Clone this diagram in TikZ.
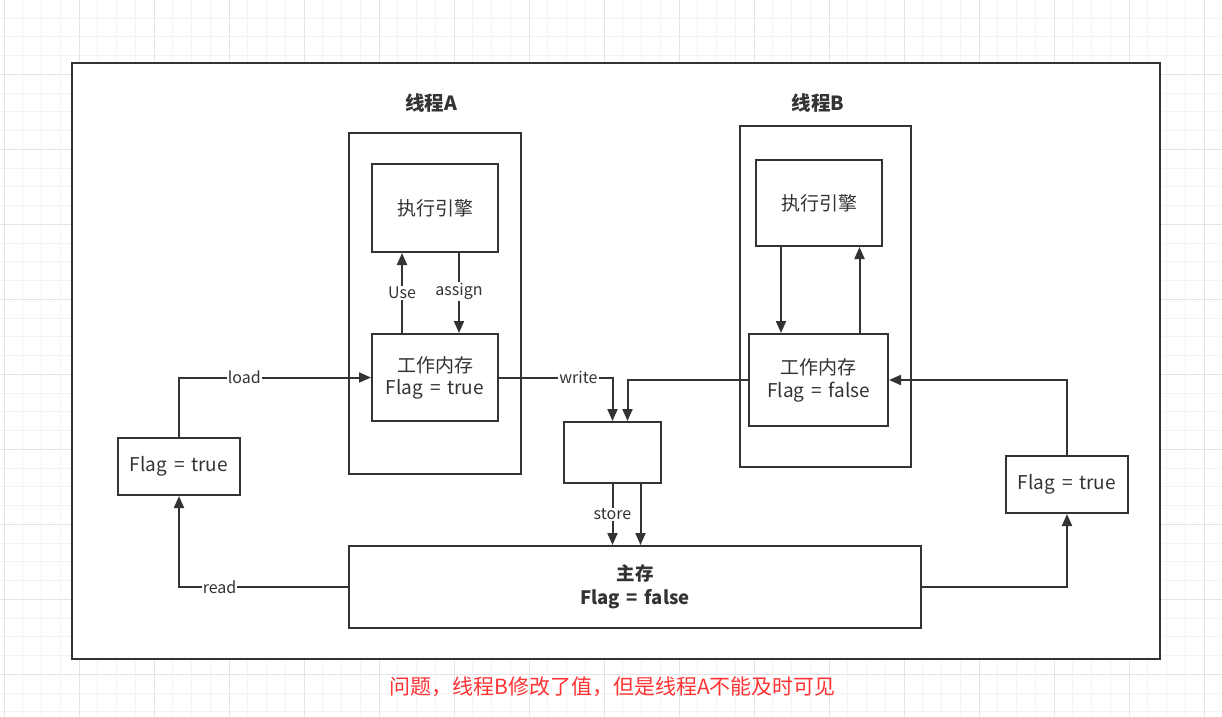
\documentclass[tikz,border=0pt]{standalone}
\usepackage{fontspec}
\setmainfont[WordSpace=1.6]{Noto Sans CJK SC}
\usepackage{xcolor}
\usepackage{tikz}
\usetikzlibrary{arrows.meta,positioning,calc}
\definecolor{inkgray}{RGB}{51,51,51}
\definecolor{gridminor}{RGB}{243,243,243}
\definecolor{gridmajor}{RGB}{228,228,228}
\definecolor{warnred}{RGB}{255,51,51}
\tikzset{
  box/.style={rectangle, draw=inkgray, line width=2pt, fill=white, text=inkgray, inner sep=0pt, align=center, font=\fontsize{19}{23}\selectfont},
  threadbox/.style={rectangle, draw=inkgray, line width=2pt, inner sep=0pt},
  title/.style={text=inkgray, font=\fontsize{19.5}{22}\selectfont\bfseries},
  flow/.style={draw=inkgray, line width=2pt, -{Triangle[length=12pt,width=10pt]}},
  lbl/.style={fill=white, text=inkgray, inner sep=1pt, font=\fontsize{16}{18}\selectfont}
}
\begin{document}
\begin{tikzpicture}[x=1pt,y=-1pt]
  \useasboundingbox (0,0) rectangle (1222,716);
  % grid paper
  \foreach \gx in {0,...,65} \draw[gridminor,line width=1pt] (4+\gx*18.75,0) -- (4+\gx*18.75,716);
  \foreach \gy in {0,...,39} \draw[gridminor,line width=1pt] (0,-0.75+\gy*18.75) -- (1222,-0.75+\gy*18.75);
  \foreach \gx in {0,...,16} \draw[gridmajor,line width=1pt] (4+\gx*75,0) -- (4+\gx*75,716);
  \foreach \gy in {0,...,9} \draw[gridmajor,line width=1pt] (0,-0.75+\gy*75) -- (1222,-0.75+\gy*75);

  % frame
  \node[threadbox, fill=white, minimum width=1088pt, minimum height=596pt] (frame) at (616,361) {};

  % Thread A
  \node[title] (titleA) at (431,103) {线程A};
  \node[threadbox, minimum width=172pt, minimum height=341pt] (thA) at (435,303.5) {};
  \node[box, minimum width=126pt, minimum height=88pt] (engA) at (435,208) {执行引擎};
  \node[box, minimum width=126pt, minimum height=87pt] (wmA) at (435,377.5) {\raisebox{-2pt}{工作内存}\\[-1pt]\raisebox{-2pt}{Flag = true}};

  % Thread B
  \node[title] (titleB) at (818,103) {线程B};
  \node[threadbox, minimum width=171pt, minimum height=341pt] (thB) at (825.5,296.5) {};
  \node[box, minimum width=126pt, minimum height=86pt] (engB) at (819,203) {执行引擎};
  \node[box, minimum width=139pt, minimum height=92pt] (wmB) at (818.5,380) {工作内存\\Flag = false};

  % buffer, main memory, copies
  \node[box, minimum width=97pt, minimum height=61pt] (buf) at (612.5,452.5) {};
  \node[box, minimum width=572pt, minimum height=82pt, font=\fontsize{18.5}{24}\selectfont\bfseries] (mainmem) at (635,587) {主存\\Flag = false};
  \node[box, minimum width=122pt, minimum height=57pt] (flagL) at (179,466.5) {Flag = true};
  \node[box, minimum width=122pt, minimum height=57pt] (flagR) at (1067,484.5) {Flag = true};

  % inside thread A
  \draw[flow] ([xshift=-33pt]wmA.north) -- node[lbl] {Use} ([xshift=-33pt]engA.south);
  \draw[flow] ([xshift=24pt]engA.south) -- node[lbl, pos=.48] {assign} ([xshift=24pt]wmA.north);
  % inside thread B
  \draw[flow] ([xshift=-38pt]engB.south) -- ([xshift=-38pt]engB.south |- wmB.north);
  \draw[flow] ([xshift=41pt]wmB.north) -- ([xshift=41pt]wmB.north |- engB.south);

  % thread A side
  \draw[flow] (flagL.north) |- node[lbl, pos=.67] {load} (wmA.west);
  \draw[flow] (mainmem.west) -| node[lbl, pos=.38] {read} (flagL.south);
  \draw[flow] (wmA.east) -| node[lbl, pos=.35] {write} (buf.north);
  \draw[flow] (buf.south) -- node[lbl, pos=.5] {store} (buf.south |- mainmem.north);
  \draw[flow] ([xshift=28pt]buf.south) -- ([xshift=28pt]buf.south |- mainmem.north);

  % thread B side
  \draw[flow] (wmB.west) -| ([xshift=15pt]buf.north);
  \draw[flow] (mainmem.east) -| (flagR.south);
  \draw[flow] (flagR.north) |- (wmB.east);

  \node[text=warnred, font=\fontsize{21}{24}\selectfont] (note) at (612.5,687) {问题，线程B修改了值，但是线程A不能及时可见};
\end{tikzpicture}
\end{document}
